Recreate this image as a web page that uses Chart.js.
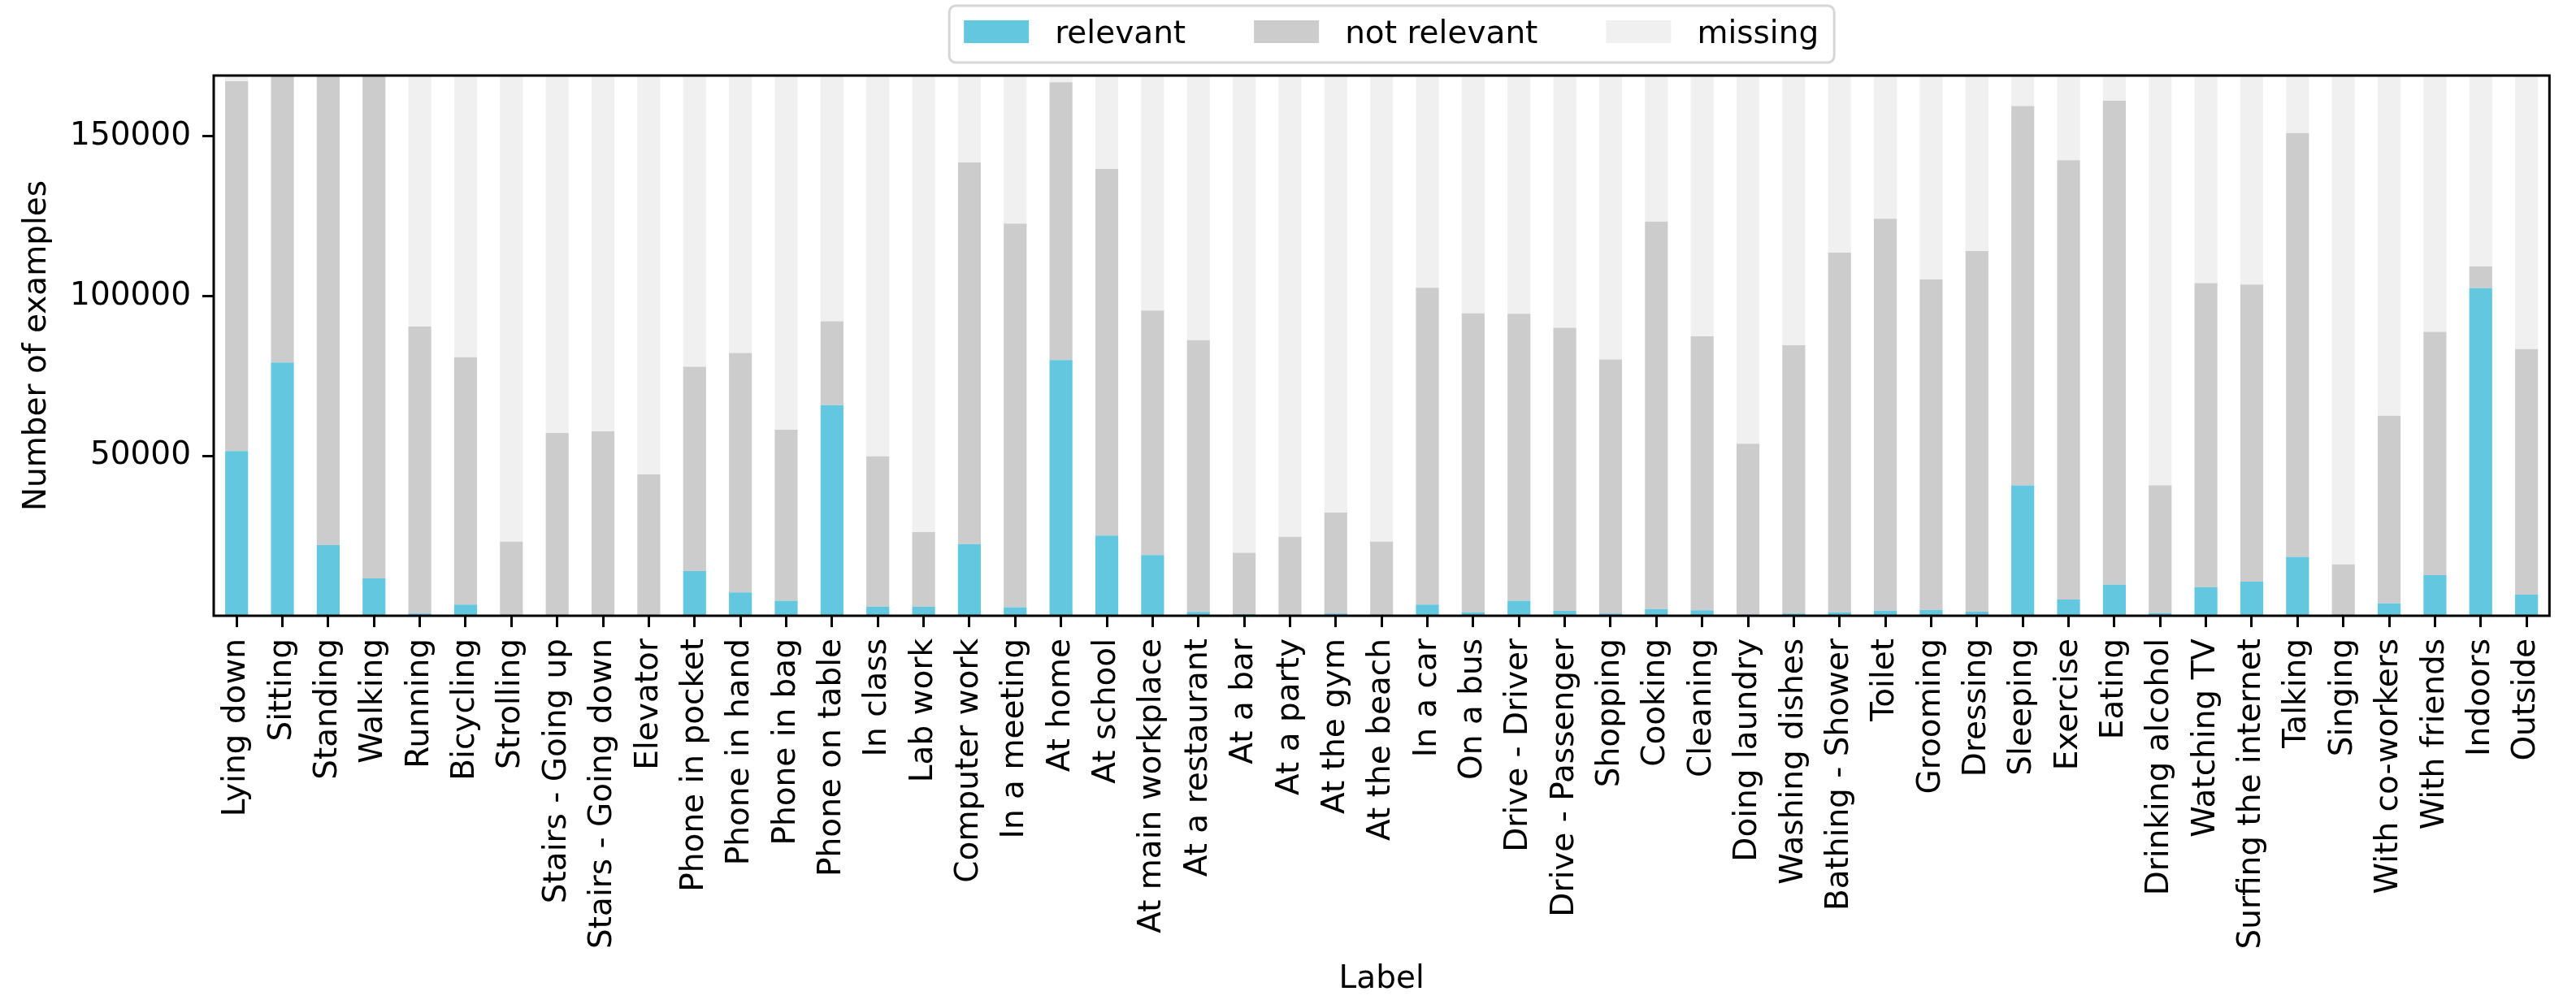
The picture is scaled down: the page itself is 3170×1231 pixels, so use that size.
<!DOCTYPE html>
<html>
<head>
<meta charset="utf-8">
<script src="https://cdn.jsdelivr.net/npm/chart.js@4/dist/chart.umd.min.js"></script>
<style>
  body { margin: 0; background: #fff; }
  canvas { display: block; }
</style>
</head>
<body>
<canvas id="graph" width="3170" height="1231"></canvas>
<script>
// labels along the x axis
const labels = [
  'Lying down', 'Sitting', 'Standing', 'Walking', 'Running', 'Bicycling', 'Strolling',
  'Stairs - Going up', 'Stairs - Going down', 'Elevator', 'Phone in pocket', 'Phone in hand',
  'Phone in bag', 'Phone on table', 'In class', 'Lab work', 'Computer work', 'In a meeting',
  'At home', 'At school', 'At main workplace', 'At a restaurant', 'At a bar', 'At a party',
  'At the gym', 'At the beach', 'In a car', 'On a bus', 'Drive - Driver', 'Drive - Passenger',
  'Shopping', 'Cooking', 'Cleaning', 'Doing laundry', 'Washing dishes', 'Bathing - Shower',
  'Toilet', 'Grooming', 'Dressing', 'Sleeping', 'Exercise', 'Eating', 'Drinking alcohol',
  'Watching TV', 'Surfing the internet', 'Talking', 'Singing', 'With co-workers',
  'With friends', 'Indoors', 'Outside'
];

const relevant = [
  51500, 79200, 22100, 11700, 700, 3500, 0, 0, 0, 0, 14000, 7300,
  4700, 65900, 2800, 2800, 22400, 2700, 80000, 25100, 19000, 1200, 500, 200,
  700, 100, 3500, 1100, 4700, 1500, 700, 2100, 1700, 300, 700, 1100,
  1600, 1800, 1300, 40800, 5100, 9700, 800, 8900, 10700, 18400, 0, 3900,
  12700, 102500, 6600
];

const notRelevant = [
  115700, 89800, 146900, 157300, 89750, 77350, 23200, 57200, 57700, 44200, 63900, 74900,
  53500, 26200, 47100, 23400, 119400, 120000, 86900, 114700, 76500, 85000, 19200, 24500,
  31600, 23100, 99100, 93500, 89800, 88600, 79500, 121200, 85700, 53500, 83900, 112500,
  122600, 103400, 112800, 118700, 137400, 151400, 40000, 95200, 92900, 132600, 16100, 58700,
  76100, 6800, 76800
];

const missing = [
  1800, 0, 0, 0, 78550, 88150, 145800, 111800, 111300, 124800, 91100, 86800,
  110800, 76900, 119100, 142800, 27200, 46300, 2100, 29200, 73500, 82800, 149300, 144300,
  136700, 145800, 66400, 74400, 74500, 78900, 88800, 45700, 81600, 115200, 84400, 55400,
  44800, 63800, 54900, 9500, 26500, 7900, 128200, 64900, 65400, 18000, 152900, 106400,
  80200, 59700, 85600
];

const yTicks = [50000, 100000, 150000];
const yMax = 169000;

const font = 'DejaVu Sans';
const fsize = 39;

// box around the plot + matplotlib style legend
const framePlugin = {
  id: 'frame',
  afterDraw(chart) {
    const ctx = chart.ctx;
    const a = chart.chartArea;
    ctx.save();
    ctx.strokeStyle = '#000';
    ctx.lineWidth = 3;
    ctx.strokeRect(a.left, a.top, a.right - a.left, a.bottom - a.top);

    // legend
    ctx.font = fsize + 'px "' + font + '"';
    const handle = 80, textPad = 32, colSpace = 84;
    const sets = chart.data.datasets;
    let total = 0;
    const widths = sets.map(d => ctx.measureText(d.label).width);
    widths.forEach((w, i) => { total += handle + textPad + w + (i < sets.length - 1 ? colSpace : 0); });
    const cx = (a.left + a.right) / 2 + 12;
    let x = cx - total / 2;
    const boxL = x - 18, boxR = x + total + 19, boxT = 7, boxB = 77;
    ctx.beginPath();
    ctx.roundRect(boxL, boxT, boxR - boxL, boxB - boxT, 8);
    ctx.fillStyle = 'rgba(255,255,255,0.8)';
    ctx.fill();
    ctx.strokeStyle = '#d6d6d6';
    ctx.lineWidth = 3;
    ctx.stroke();
    ctx.textBaseline = 'alphabetic';
    ctx.textAlign = 'left';
    sets.forEach((d, i) => {
      ctx.fillStyle = d.backgroundColor;
      ctx.fillRect(x, 25, handle, 28);
      ctx.fillStyle = '#000';
      ctx.fillText(d.label, x + handle + textPad, 53);
      x += handle + textPad + widths[i] + colSpace;
    });
    ctx.restore();
  }
};

const ctx = document.getElementById('graph').getContext('2d');
const chart = new Chart(ctx, {
  type: 'bar',
  data: {
    labels: labels,
    datasets: [
      { label: 'relevant', data: relevant, backgroundColor: '#63c7df' },
      { label: 'not relevant', data: notRelevant, backgroundColor: '#cccccc' },
      { label: 'missing', data: missing, backgroundColor: '#f0f0f0' }
    ]
  },
  options: {
    responsive: false,
    maintainAspectRatio: false,
    devicePixelRatio: 1,
    animation: false,
    datasets: {
      bar: { barPercentage: 0.5, categoryPercentage: 1.0, borderWidth: 0 }
    },
    layout: { padding: { top: 93, right: 7, left: 0, bottom: 0 } },
    plugins: {
      legend: { display: false },
      tooltip: { enabled: false }
    },
    scales: {
      x: {
        stacked: true,
        offset: true,
        afterFit(scale) { scale.height = 473; },
        grid: {
          offset: false,
          drawOnChartArea: false,
          drawTicks: true,
          tickLength: 14,
          tickWidth: 3,
          tickColor: '#000'
        },
        border: { display: false },
        ticks: {
          autoSkip: false,
          minRotation: 90,
          maxRotation: 90,
          padding: 14,
          color: '#000',
          font: { family: font, size: fsize }
        },
        title: {
          display: true,
          text: 'Label',
          color: '#000',
          padding: { top: 0, bottom: 2 },
          font: { family: font, size: fsize }
        }
      },
      y: {
        stacked: true,
        min: 0,
        max: yMax,
        afterFit(scale) { scale.width = 263; },
        afterBuildTicks(scale) { scale.ticks = yTicks.map(v => ({ value: v })); },
        grid: {
          drawOnChartArea: false,
          drawTicks: true,
          tickLength: 14,
          tickWidth: 3,
          tickColor: '#000'
        },
        border: { display: false },
        ticks: {
          padding: 14,
          color: '#000',
          font: { family: font, size: fsize },
          callback: v => String(v)
        },
        title: {
          display: true,
          text: 'Number of examples',
          color: '#000',
          padding: { top: 22, bottom: 0 },
          font: { family: font, size: fsize }
        }
      }
    }
  },
  plugins: [framePlugin]
});
</script>
</body>
</html>
